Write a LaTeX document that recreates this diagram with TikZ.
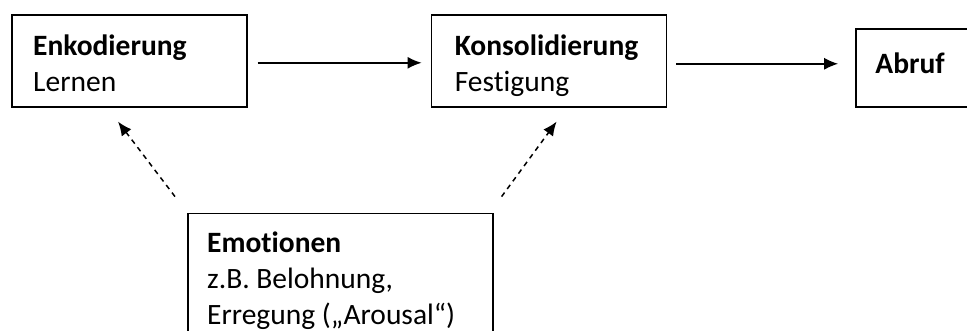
\documentclass[tikz,border=0pt]{standalone}
\usepackage{fontspec}
\setmainfont{Carlito}[Ligatures=NoCommon]
\usetikzlibrary{positioning}
\usetikzlibrary{arrows.meta}

\begin{document}
\begin{tikzpicture}[
    node distance=1cm,
    box/.style={rectangle,draw=black,line width=1.6pt,minimum width=235pt,minimum height=92pt,inner sep=0pt},
    txt/.style={align=left,inner sep=0pt,font=\fontsize{29.5pt}{36pt}\selectfont},
    arr/.style={line width=1.5pt,-{Latex[length=14pt,width=12pt]}},
    darr/.style={arr,dash pattern=on 5pt off 4.5pt}
    ]
    \useasboundingbox (0,0) rectangle (967pt,-331pt);
    \node (enk) [box,anchor=north west] at (11pt,-14pt) {};
    \node (kon) [box,right=183pt of enk] {};
    \node (abr) [box,minimum width=160pt,minimum height=78pt,right=188pt of kon,yshift=-7pt] {};
    \node (emo) [box,minimum width=305pt,minimum height=140pt,below right=105pt and 176pt of enk.south west] {};
    % Texte in den Kaesten
    \node (enkt) [txt,below right=21pt and 22pt of enk.north west] {\textbf{Enkodierung}\\Lernen};
    \node (kont) [txt,below right=21pt and 24pt of kon.north west] {\textbf{Konsolidierung}\\Festigung};
    \node (abrt) [txt,below right=25pt and 20pt of abr.north west] {\textbf{Abruf}};
    \node (emot) [txt,below right=19pt and 20pt of emo.north west] {\textbf{Emotionen}\\z.B. Belohnung,\\Erregung („Arousal“)};
    % Enden der gestrichelten Pfeile
    \coordinate (e1) at ([shift={(-12pt,16pt)}]emo.north west);
    \coordinate (t1) at ([shift={(107pt,-14pt)}]enk.south west);
    \coordinate (e2) at ([shift={(8pt,16pt)}]emo.north east);
    \coordinate (t2) at ([shift={(126pt,-14pt)}]kon.south west);
    \draw[arr,shorten <=10pt,shorten >=9pt] ([yshift=-2pt]enk.east) -- ([yshift=-2pt]kon.west);
    \draw[arr,shorten <=9pt,shorten >=17pt] ([yshift=-3pt]kon.east) -- ([yshift=-3pt]kon.east -| abr.west);
    \draw[darr] (e1) -- (t1);
    \draw[darr] (e2) -- (t2);
  \end{tikzpicture}
\end{document}
